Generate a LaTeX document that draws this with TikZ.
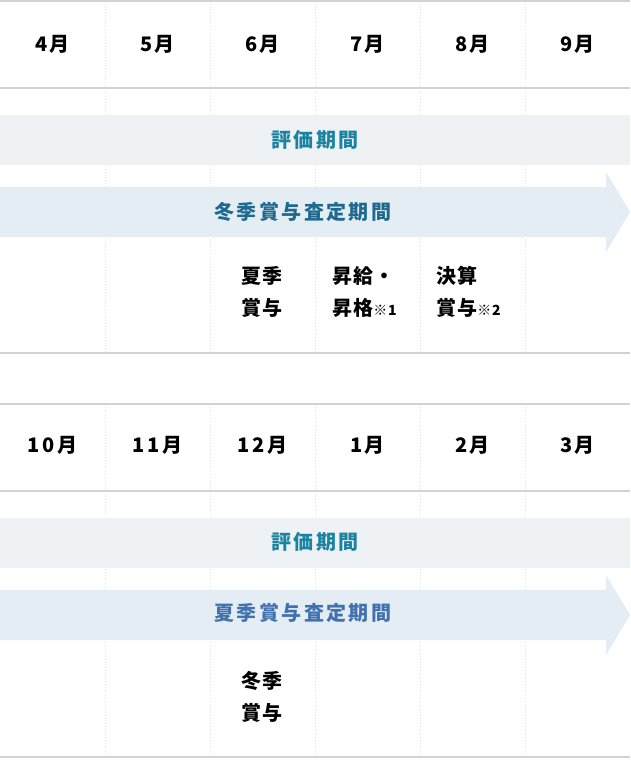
\documentclass[tikz,border=0pt]{standalone}
\usepackage{fontspec}
\setmainfont{Noto Sans CJK JP}[LetterSpace=6]
\definecolor{evalband}{HTML}{EEF2F4}
\definecolor{arrowband}{HTML}{E4ECF4}
\definecolor{evaltext}{HTML}{1B83A1}
\definecolor{wintertext}{HTML}{1E6A8E}
\definecolor{summertext}{HTML}{4272AE}
\definecolor{rulegray}{HTML}{D2D2D2}
\definecolor{gridgray}{HTML}{E2E2E2}
\tikzset{
  month/.style={font=\bfseries\fontsize{20}{22}\selectfont\addfontfeature{LetterSpace=12}, inner sep=0pt},
  band/.style={font=\bfseries\fontsize{20}{22}\selectfont\addfontfeature{LetterSpace=12}, inner sep=0pt},
  event/.style={font=\bfseries\fontsize{20}{32}\selectfont, inner sep=0pt},
  rule/.style={rulegray, line width=1.3pt},
  grid/.style={gridgray, dotted, line width=0.8pt}
}
\newcommand{\note}[1]{{\fontsize{14}{14}\selectfont #1}}
\begin{document}
\begin{tikzpicture}[x=1pt,y=-1pt]
\useasboundingbox (0,0) rectangle (630,760);

% column guides
\foreach \x in {105,210,315,420,525} {
  \draw[grid] (\x,1) -- (\x,353);
  \draw[grid] (\x,404) -- (\x,757);
}

% rules
\foreach \y in {1,88,353,404,491,757}
  \draw[rule] (0,\y) -- (630,\y);

% first half
\foreach \m [count=\i] in {4,5,6,7,8,9}
  \node[month] (top\m) at ({105*\i-52.5},44) {\m 月};

\fill[evalband] (0,115) rectangle (630,165);
\node[band, text=evaltext] (evaltop) at (315,140) {評価期間};

\fill[arrowband] (0,187) -- (606,187) -- (606,172) -- (630,212)
  -- (606,252) -- (606,237) -- (0,237) -- cycle;
\node[band, text=wintertext] (winterassess) at (303,212) {冬季賞与査定期間};

\node[event, align=center] (summerbonus) at (262,292) {夏季\\賞与};
\node[event, align=left, anchor=west] (raise) at (332,292) {昇給・\\昇格\note{※1}};
\node[event, align=left, anchor=west] (settle) at (436,292) {決算\\賞与\note{※2}};

% second half
\foreach \m [count=\i] in {10,11,12,1,2,3}
  \node[month] (bot\m) at ({105*\i-52.5},445) {\m 月};

\fill[evalband] (0,518) rectangle (630,568);
\node[band, text=evaltext] (evalbot) at (315,542) {評価期間};

\fill[arrowband] (0,590) -- (606,590) -- (606,575) -- (630,615)
  -- (606,655) -- (606,640) -- (0,640) -- cycle;
\node[band, text=summertext] (summerassess) at (303,613) {夏季賞与査定期間};

\node[event, align=center] (winterbonus) at (262,697) {冬季\\賞与};
\end{tikzpicture}
\end{document}
